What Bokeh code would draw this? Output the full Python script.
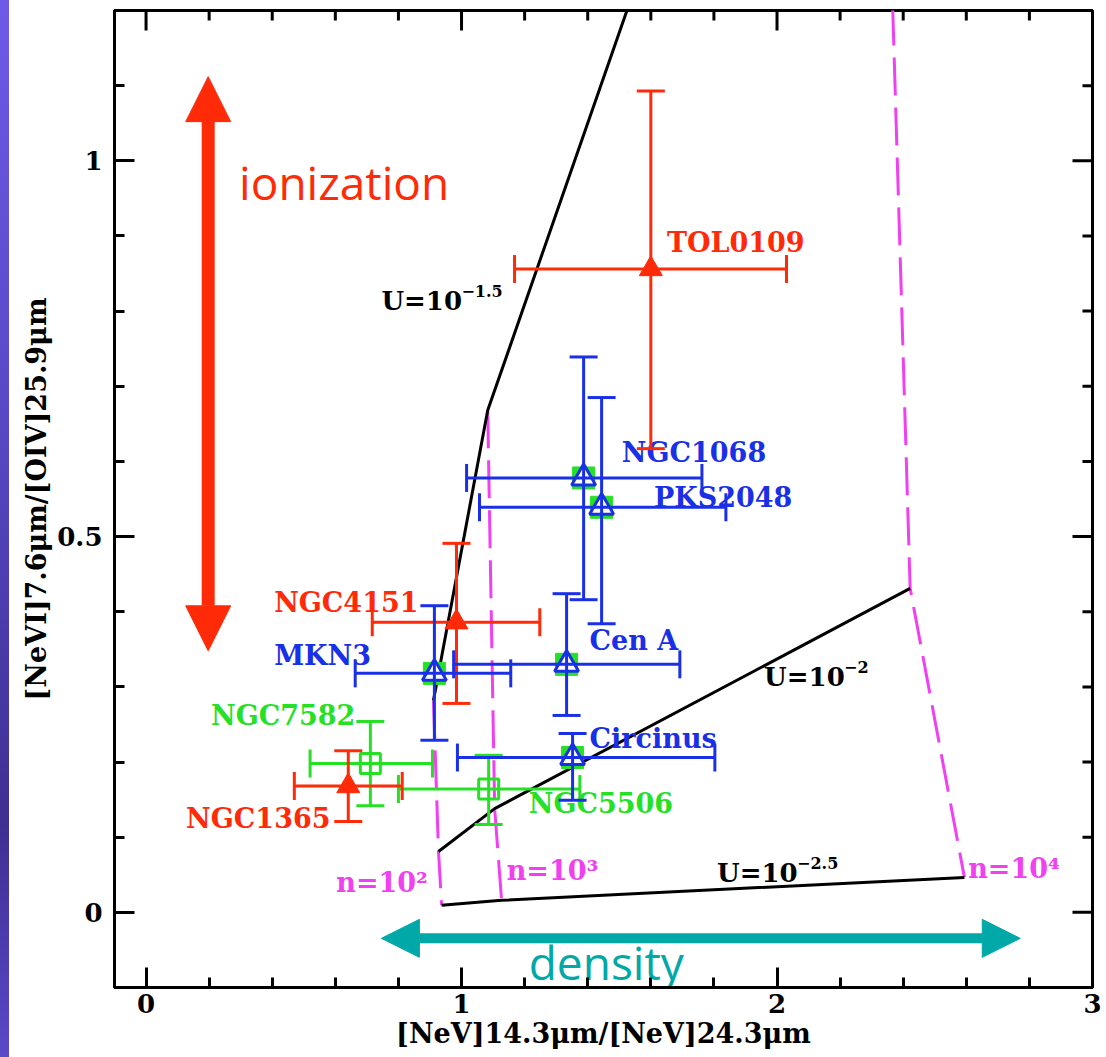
import numpy as np
from bokeh.plotting import figure
from bokeh.models import (Range1d, SingleIntervalTicker, ColumnDataSource,
                          Whisker, TeeHead, Arrow, NormalHead, Div, NumeralTickFormatter)
from bokeh.layouts import row
from bokeh.core.properties import value
from bokeh.embed import file_html
from bokeh.resources import INLINE

# ---------------- data ----------------
# red: filled triangles
red_names = ["TOL0109", "NGC4151", "NGC1365"]
red_x = [1.600, 0.984, 0.641]
red_y = [0.856, 0.386, 0.168]
red_xlo = [1.168, 0.717, 0.470]
red_xhi = [2.030, 1.248, 0.812]
red_ylo = [0.617, 0.278, 0.121]
red_yhi = [1.093, 0.491, 0.215]

# blue: open triangles (with green squares)
blue_names = ["MKN3", "Cen A", "Circinus", "NGC1068", "PKS2048"]
blue_x = [0.914, 1.333, 1.352, 1.387, 1.444]
blue_y = [0.318, 0.330, 0.206, 0.578, 0.539]
blue_xlo = [0.663, 0.975, 0.987, 1.016, 1.057]
blue_xhi = [1.156, 1.692, 1.803, 1.762, 1.838]
blue_ylo = [0.229, 0.262, 0.149, 0.416, 0.384]
blue_yhi = [0.408, 0.424, 0.238, 0.739, 0.685]

# green: open squares
green_names = ["NGC7582", "NGC5506"]
green_x = [0.711, 1.086]
green_y = [0.198, 0.164]
green_xlo = [0.520, 0.800]
green_xhi = [0.908, 1.375]
green_ylo = [0.142, 0.117]
green_yhi = [0.254, 0.209]

# photoionization model grid (constant U: solid; constant n: dashed)
u_labels = ["\u22121.5", "\u22122", "\u22122.5"]
grid_n2_x = [0.911, 0.927, 0.937]
grid_n2_y = [0.282, 0.081, 0.0093]
grid_n3_x = [1.083, 1.105, 1.127]
grid_n3_y = [0.668, 0.138, 0.016]
grid_n4_x = [2.300, 2.422, 2.594]
grid_n4_y = [2.135, 0.431, 0.0465]
n_labels = ["n=10\u00b2", "n=10\u00b3", "n=10\u2074"]

# ---------------- label placement (data units) ----------------
red_lab_x = [1.651, 0.406, 0.127]
red_lab_y = [0.891, 0.412, 0.125]
blue_lab_x = [0.406, 1.406, 1.406, 1.508, 1.610]
blue_lab_y = [0.342, 0.362, 0.231, 0.612, 0.552]
green_lab_x = [0.206, 1.213]
green_lab_y = [0.262, 0.145]
u_lab_x = [0.746, 1.959, 1.810]
u_lab_y = [0.814, 0.3125, 0.0519]
n_lab_x = [0.603, 1.143, 2.606]
n_lab_y = [0.040, 0.056, 0.058]

RED = "#ff2a08"
BLUE = "#1a30e6"
GREEN = "#26e026"
MAGENTA = "#f040f0"
TEAL = "#00a8a8"
SERIF = "DejaVu Serif"

X0, X1, Y0, Y1 = -0.1, 3.0, -0.1, 1.2
XSTEP, YSTEP = 1.0, 0.5

p = figure(width=1097, height=1057, output_backend="svg", toolbar_location=None,
           x_range=Range1d(X0, X1), y_range=Range1d(Y0, Y1),
           min_border_left=105, min_border_right=14, min_border_top=10, min_border_bottom=70)
p.grid.visible = False
p.outline_line_color = "black"
p.outline_line_width = 3
p.outline_line_alpha = 1.0
p.background_fill_color = "white"
p.border_fill_color = "white"


def style_axis(ax, ticker):
    ax.ticker = ticker
    ax.axis_line_color = "black"
    ax.axis_line_width = 3
    ax.major_tick_line_color = "black"
    ax.major_tick_line_width = 3
    ax.minor_tick_line_color = "black"
    ax.minor_tick_line_width = 3
    ax.major_tick_in = 20
    ax.major_tick_out = 0
    ax.minor_tick_in = 10
    ax.minor_tick_out = 0
    ax.major_label_text_font = SERIF
    ax.major_label_text_font_style = "bold"
    ax.major_label_text_color = "black"
    ax.major_label_text_font_size = "26px"
    ax.formatter = NumeralTickFormatter(format="0.[0]")


style_axis(p.xaxis[0], SingleIntervalTicker(interval=XSTEP, num_minor_ticks=5))
style_axis(p.yaxis[0], SingleIntervalTicker(interval=YSTEP, num_minor_ticks=5))
p.xaxis[0].major_label_standoff = 6
p.yaxis[0].major_label_standoff = 12
for ax, lab in ((p.xaxis[0], "[NeV]14.3\u03bcm/[NeV]24.3\u03bcm"),
                (p.yaxis[0], "[NeVI]7.6\u03bcm/[OIV]25.9\u03bcm")):
    ax.axis_label = lab
    ax.axis_label_text_font = SERIF
    ax.axis_label_text_font_style = "bold"
    ax.axis_label_text_font_size = "27px"
    ax.axis_label_text_color = "black"
    ax.axis_label_standoff = 2

# mirrored inward ticks on the top and right frame edges
x_major = np.arange(0.0, X1 + 1e-9, XSTEP)
x_minor = np.array([v for v in np.arange(0.0, X1 + 1e-9, XSTEP / 5)
                    if abs(v / XSTEP - round(v / XSTEP)) > 1e-6])
y_major = np.arange(0.0, Y1 + 1e-9, YSTEP)
y_minor = np.array([v for v in np.arange(-0.1, Y1 - 1e-9, YSTEP / 5)
                    if abs(v / YSTEP - round(v / YSTEP)) > 1e-6])
for xs, ln in ((x_major, 20), (x_minor, 10)):
    p.ray(x=xs, y=np.full(len(xs), Y1), length=ln, length_units="screen",
          angle=-np.pi / 2, line_color="black", line_width=3)
for ys, ln in ((y_major, 20), (y_minor, 10)):
    p.ray(x=np.full(len(ys), X1), y=ys, length=ln, length_units="screen",
          angle=np.pi, line_color="black", line_width=3)

# ---------------- model grid ----------------
for gx, gy in ((grid_n2_x, grid_n2_y), (grid_n3_x, grid_n3_y), (grid_n4_x, grid_n4_y)):
    p.line(gx, gy, line_color=MAGENTA, line_width=3, line_dash="38 12")
for i in range(3):
    ux = [grid_n2_x[i], grid_n3_x[i], grid_n4_x[i]]
    uy = [grid_n2_y[i], grid_n3_y[i], grid_n4_y[i]]
    p.line(ux, uy, line_color="black", line_width=3)

p.text(x=u_lab_x, y=u_lab_y, text=["U=10"] * 3, text_color="black",
       text_font=value(SERIF), text_font_style="bold", text_font_size="26px",
       text_baseline="middle", text_align="left")
p.text(x=u_lab_x, y=u_lab_y, text=u_labels, text_color="black",
       text_font=value(SERIF), text_font_style="bold", text_font_size="16px",
       text_baseline="middle", text_align="left", x_offset=80, y_offset=-10)
p.text(x=n_lab_x, y=n_lab_y, text=n_labels, text_color=MAGENTA,
       text_font=value(SERIF), text_font_style="bold", text_font_size="27px",
       text_baseline="middle", text_align="left")

# ---------------- arrows ----------------
ion_arrow = [0.197, 0.348, 1.112]      # x, y_start, y_end
den_arrow = [-0.0346, 0.746, 2.771]    # y, x_start, x_end
p.add_layout(Arrow(x_start=ion_arrow[0], y_start=ion_arrow[1], x_end=ion_arrow[0], y_end=ion_arrow[2],
                   line_color=RED, line_width=13,
                   start=NormalHead(size=45, fill_color=RED, line_color=RED, line_width=1),
                   end=NormalHead(size=45, fill_color=RED, line_color=RED, line_width=1)))
p.add_layout(Arrow(x_start=den_arrow[1], y_start=den_arrow[0], x_end=den_arrow[2], y_end=den_arrow[0],
                   line_color=TEAL, line_width=10,
                   start=NormalHead(size=38, fill_color=TEAL, line_color=TEAL, line_width=1),
                   end=NormalHead(size=38, fill_color=TEAL, line_color=TEAL, line_width=1)))
p.text(x=[0.295], y=[0.972], text=["ionization"], text_color=RED, text_font=value("Open Sans"),
       text_font_size="46px", text_baseline="middle", text_align="left")
p.text(x=[1.213], y=[-0.066], text=["density"], text_color=TEAL, text_font=value("Open Sans"),
       text_font_size="46px", text_baseline="middle", text_align="left")

# ---------------- data points ----------------
def add_errors(xs, ys, xlo, xhi, ylo, yhi, color):
    src = ColumnDataSource(dict(x=xs, y=ys, xlo=xlo, xhi=xhi, ylo=ylo, yhi=yhi))
    for dim, base, lo, hi in (("height", "x", "ylo", "yhi"), ("width", "y", "xlo", "xhi")):
        w = Whisker(source=src, base=base, lower=lo, upper=hi, dimension=dim,
                    line_color=color, line_width=3, level="annotation",
                    upper_head=TeeHead(size=28, line_color=color, line_width=3),
                    lower_head=TeeHead(size=28, line_color=color, line_width=3))
        p.add_layout(w)


p.scatter(blue_x, blue_y, marker="square", size=22, fill_color=GREEN, line_color=GREEN)
p.scatter(blue_x, blue_y, marker="triangle", size=24, fill_color="white", line_color=BLUE, line_width=3)
p.scatter(green_x, green_y, marker="square", size=20, fill_color=None, line_color=GREEN, line_width=3)
p.scatter(red_x, red_y, marker="triangle", size=23, fill_color=RED, line_color=RED, line_width=1)

add_errors(green_x, green_y, green_xlo, green_xhi, green_ylo, green_yhi, GREEN)
add_errors(red_x, red_y, red_xlo, red_xhi, red_ylo, red_yhi, RED)
add_errors(blue_x, blue_y, blue_xlo, blue_xhi, blue_ylo, blue_yhi, BLUE)

for names, lx, ly, col in ((red_names, red_lab_x, red_lab_y, RED),
                           (blue_names, blue_lab_x, blue_lab_y, BLUE),
                           (green_names, green_lab_x, green_lab_y, GREEN)):
    p.text(x=lx, y=ly, text=names, text_color=col, text_font=value(SERIF),
           text_font_style="bold", text_font_size="27px",
           text_baseline="middle", text_align="left")

strip = Div(text="", width=9, height=1057, margin=0,
            styles={"background": "linear-gradient(to bottom, #6e5ae8 0%, #5848c4 40%, #3f2f92 78%, #5a48c8 100%)"})

layout = row(strip, p, spacing=0)
open("out.html", "w").write(file_html(layout, INLINE))
